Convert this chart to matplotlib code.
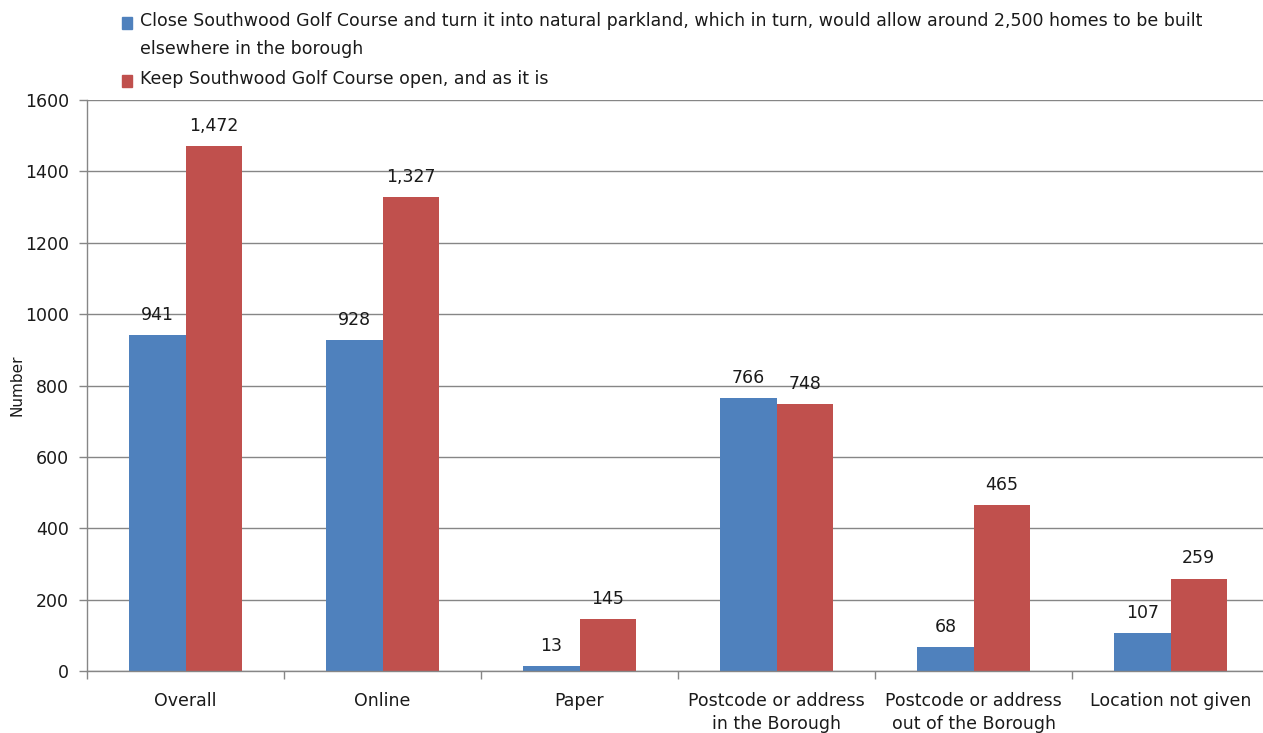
import numpy as np
import matplotlib.pyplot as plt
from matplotlib.patches import Rectangle

# Data
categories = ["Overall", "Online", "Paper", "Postcode or address\nin the Borough",
              "Postcode or address\nout of the Borough", "Location not given"]
close_vals = [941, 928, 13, 766, 68, 107]
keep_vals = [1472, 1327, 145, 748, 465, 259]
series_names = ["Close Southwood Golf Course and turn it into natural parkland, which in turn, would allow around 2,500 homes to be built\nelsewhere in the borough",
                "Keep Southwood Golf Course open, and as it is"]
blue = "#4F81BD"
red = "#C0504D"
grid_col = "#868686"

plt.rcParams['font.family'] = ['DejaVu Sans']
fs = 12.5

W, H = 1263, 733
fig = plt.figure(figsize=(W / 100, H / 100), dpi=100)
ax = fig.add_axes([87 / W, 62 / H, 1182 / W, 571 / H])

x = np.arange(len(categories))
bw = 0.285
b1 = ax.bar(x - bw / 2, close_vals, bw, color=blue)
b2 = ax.bar(x + bw / 2, keep_vals, bw, color=red)

for bars, vals in ((b1, close_vals), (b2, keep_vals)):
    for b, v in zip(bars, vals):
        ax.annotate(f"{v:,}", (b.get_x() + b.get_width() / 2, v), xytext=(0, 8),
                    textcoords="offset points", ha="center", va="bottom", fontsize=fs,
                    color="#1a1a1a")

ax.set_xlim(-0.5, len(categories) - 0.5)
ax.set_ylim(0, 1600)
ax.set_yticks(range(0, 1601, 200))
ax.yaxis.grid(True, color=grid_col, linewidth=1)
ax.set_axisbelow(True)

ax.set_xticks(x)
ax.set_xticklabels(categories, fontsize=fs, color="#1a1a1a", linespacing=1.38)
ax.set_xticks(np.arange(-0.5, len(categories)), minor=True)
ax.tick_params(axis="x", which="major", length=0, pad=15)
ax.tick_params(axis="x", which="minor", length=6, color=grid_col, width=1)
ax.tick_params(axis="y", length=6, color=grid_col, width=1, labelsize=fs,
               labelcolor="#1a1a1a", pad=7)

for s in ("top", "right"):
    ax.spines[s].set_visible(False)
for s in ("left", "bottom"):
    ax.spines[s].set_color(grid_col)
    ax.spines[s].set_linewidth(1)

ax.set_ylabel("Number", fontsize=11, color="#1a1a1a", labelpad=0)

# legend drawn by hand so the wrapped entry lines up like the original
leg_y = [23, 81]
for name, col, yy in zip(series_names, (blue, red), leg_y):
    fig.add_artist(Rectangle((122 / W, 1 - (yy + 6) / H), 10 / W, 12 / H,
                             transform=fig.transFigure, color=col))
    fig.text(140 / W, 1 - (yy - 11) / H, name, fontsize=fs, va="top", ha="left",
             color="#1a1a1a", linespacing=1.75)

fig.savefig("out.png", dpi=100)
